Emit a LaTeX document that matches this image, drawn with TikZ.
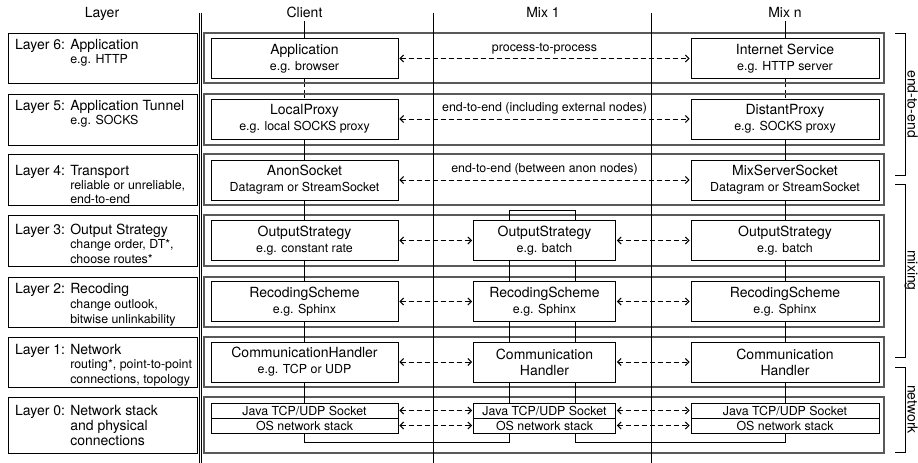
\documentclass[tikz,border=0pt]{standalone}
\usepackage{fontspec}
\setmainfont{TeX Gyre Heros}
\usetikzlibrary{arrows.meta}
\newcommand{\subtxt}{\fontsize{12.4}{14}\selectfont}
\newcommand{\lind}{\phantom{Layer 0: }}

\begin{document}
\begin{tikzpicture}[x=1pt,y=-1pt,
    font=\fontsize{14}{16}\selectfont,
    >={Straight Barb[length=3.5pt,width=7pt,line width=1.1pt]},
    rowbox/.style={draw=black!65,line width=1.1pt},
    lbl/.style={anchor=north west,align=left,inner sep=0pt,font=\fontsize{14}{#1}\selectfont},
    comp/.style={draw,line width=0.8pt,align=center,minimum height=40pt,inner sep=0pt,minimum width=#1},
    sock/.style={draw,line width=0.8pt,minimum height=15pt,inner sep=0pt,minimum width=#1,font=\subtxt},
    link/.style={line width=1pt},
    dlink/.style={line width=1pt,dash pattern=on 3pt off 2.5pt},
    msg/.style={<->,dash pattern=on 5pt off 3pt,line width=0.8pt,shorten <=1pt,shorten >=1pt},
    brk/.style={line width=0.9pt}]
    \useasboundingbox (0,0) rectangle (918,463);
    \foreach \y/\h in {33/50,94/51,154/51,215/51,277/50,337/50,397/56}{
        \draw[rowbox] (204,\y) rectangle ++(680,\h);
        \draw[line width=0.8pt] (8,\y) rectangle ++(189,\h);
    }
    \draw[line width=0.8pt,double,double distance=1.8pt] (200.5,13) -- (200.5,463);
    \draw[line width=0.8pt] (433,13) -- (433,463);
    \draw[line width=0.8pt] (651,13) -- (651,463);

    \node[anchor=base] (hlayer) at (102,17.5) {Layer};
    \node[anchor=base] (hclient) at (304.5,17.5) {Client};
    \node[anchor=base] (hmix1) at (543,17.5) {Mix 1};
    \node[anchor=base] (hmixn) at (785,17.5) {Mix n};

    \node[lbl=14] (l6) at (15,39) {Layer 6: Application\\\lind{\subtxt e.g. HTTP}};
    \node[lbl=14] (l5) at (15,100) {Layer 5: Application Tunnel\\\lind{\subtxt e.g. SOCKS}};
    \node[lbl=12] (l4) at (15,165) {Layer 4: Transport\\\lind{\subtxt reliable or unreliable,}\\\lind{\subtxt end-to-end}};
    \node[lbl=12] (l3) at (15,224) {Layer 3: Output Strategy\\\lind{\subtxt change order, DT*,}\\\lind{\subtxt choose routes*}};
    \node[lbl=15] (l2) at (15,283) {Layer 2: Recoding\\\lind{\subtxt change outlook,}\\\lind{\subtxt bitwise unlinkability}};
    \node[lbl=14.5] (l1) at (15,344) {Layer 1: Network\\\lind{\subtxt routing*, point-to-point}\\\lind{\subtxt connections, topology}};
    \node[lbl=15] (l0) at (15,405) {Layer 0: Network stack\\\lind and physical\\\lind connections};

    \node[comp=187pt] (capp) at (304.5,58.5) {Application\\{\subtxt e.g. browser}};
    \node[comp=187pt] (cproxy) at (304.5,119) {LocalProxy\\{\subtxt e.g. local SOCKS proxy}};
    \node[comp=187pt] (csock) at (304.5,180) {AnonSocket\\{\subtxt Datagram or StreamSocket}};
    \node[comp=187pt] (cout) at (304.5,240.5) {OutputStrategy\\{\subtxt e.g. constant rate}};
    \node[comp=187pt] (crec) at (304.5,301.5) {RecodingScheme\\{\subtxt e.g. Sphinx}};
    \node[comp=187pt] (ccom) at (304.5,362) {CommunicationHandler\\{\subtxt e.g. TCP or UDP}};
    \node[sock=187pt] (cjava) at (304.5,410.5) {Java TCP/UDP Socket};
    \node[sock=187pt] (cos) at (304.5,425.5) {OS network stack};

    \node[comp=142pt] (m1out) at (544.5,240.5) {OutputStrategy\\{\subtxt e.g. batch}};
    \node[comp=142pt] (m1rec) at (544.5,301.5) {RecodingScheme\\{\subtxt e.g. Sphinx}};
    \node[comp=142pt] (m1com) at (544.5,362) {Communication\\Handler};
    \node[sock=142pt] (m1java) at (544.5,410.5) {Java TCP/UDP Socket};
    \node[sock=142pt] (m1os) at (544.5,425.5) {OS network stack};

    \node[comp=188pt] (minet) at (785,58.5) {Internet Service\\{\subtxt e.g. HTTP server}};
    \node[comp=188pt] (mproxy) at (785,119) {DistantProxy\\{\subtxt e.g. SOCKS proxy}};
    \node[comp=188pt] (msock) at (785,180) {MixServerSocket\\{\subtxt Datagram or StreamSocket}};
    \node[comp=188pt] (mnout) at (785,240.5) {OutputStrategy\\{\subtxt e.g. batch}};
    \node[comp=188pt] (mnrec) at (785,301.5) {RecodingScheme\\{\subtxt e.g. Sphinx}};
    \node[comp=188pt] (mncom) at (785,362) {Communication\\Handler};
    \node[sock=188pt] (mnjava) at (785,410.5) {Java TCP/UDP Socket};
    \node[sock=188pt] (mnos) at (785,425.5) {OS network stack};

    \draw[link] (hclient) -- (capp);
    \draw[dlink] (capp) -- (cproxy);
    \draw[link] (cproxy) -- (csock) (csock) -- (cout) (cout) -- (crec) (crec) -- (ccom) (ccom) -- (cjava);
    \draw[link] (hmixn) -- (minet);
    \draw[dlink] (minet) -- (mproxy);
    \draw[link] (mproxy) -- (msock) (msock) -- (mnout) (mnout) -- (mnrec) (mnrec) -- (mncom) (mncom) -- (mnjava);

    \draw[link] ([xshift=-35pt]m1out.north) -- ++(0,-10) -| ([xshift=31pt]m1out.north);
    \foreach \a/\b in {m1out/m1rec,m1rec/m1com,m1com/m1java}{
        \draw[link] ([xshift=-35pt]\a.south) -- ([xshift=-35pt]\b.north);
        \draw[link] ([xshift=31pt]\a.south) -- ([xshift=31pt]\b.north);
    }
    \draw[link] (cos.south) -- ++(0,9) -| ([xshift=-35pt]m1os.south);
    \draw[link] ([xshift=31pt]m1os.south) -- ++(0,9) -| (mnos.south);

    \draw[msg] (capp) -- node[above=1pt,font=\subtxt] {process-to-process} (minet);
    \draw[msg] (cproxy) -- node[above=1pt,font=\subtxt] {end-to-end (including external nodes)} (mproxy);
    \draw[msg] (csock) -- node[above=1pt,font=\subtxt] {end-to-end (between anon nodes)} (msock);
    \foreach \a/\b/\c in {cout/m1out/mnout,crec/m1rec/mnrec,ccom/m1com/mncom,cjava/m1java/mnjava,cos/m1os/mnos}{
        \draw[msg] (\a) -- (\b);
        \draw[msg] (\b) -- (\c);
    }

    \draw[brk] (895,33) -| (905.5,175) -- (895,175);
    \draw[brk] (895,184) -| (905.5,357) -- (895,357);
    \draw[brk] (895,367) -| (905.5,452) -- (895,452);
    \node[rotate=-90,anchor=base] (tend) at (907.5,104) {end-to-end};
    \node[rotate=-90,anchor=base] (tmix) at (907.5,270.5) {mixing};
    \node[rotate=-90,anchor=base] (tnet) at (907.5,409.5) {network};
\end{tikzpicture}
\end{document}
